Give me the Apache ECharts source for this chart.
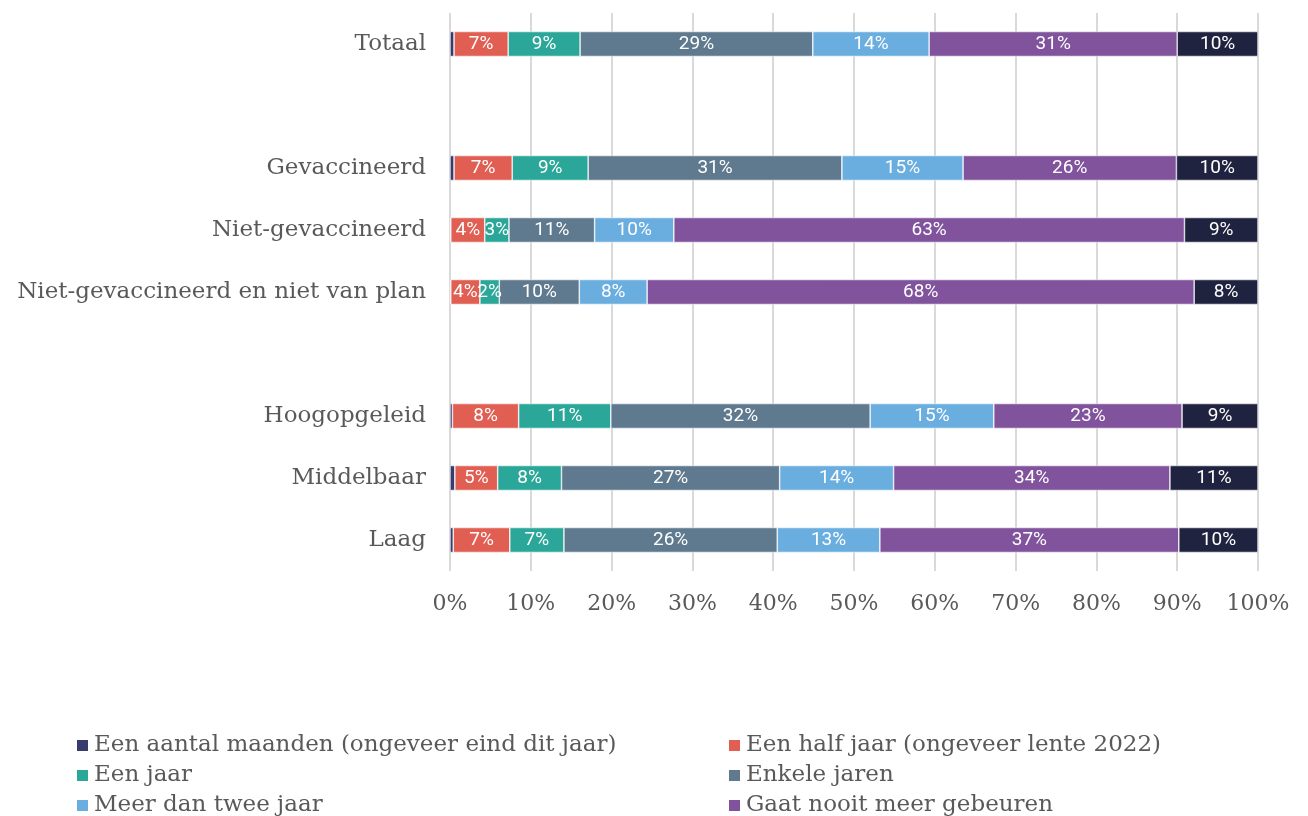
<!DOCTYPE html>
<html>
<head>
<meta charset="utf-8">
<script src="https://cdn.jsdelivr.net/npm/echarts@6/dist/echarts.min.js"></script>
<style>
  html, body { margin: 0; padding: 0; background: #fff; }
  #chart { width: 1308px; height: 816px; }
</style>
</head>
<body>
<div id="chart"></div>
<script>
// categorieen (lege regels zijn witruimte tussen de groepen)
const categories = ['Totaal', '', 'Gevaccineerd', 'Niet-gevaccineerd', 'Niet-gevaccineerd en niet van plan', ' ', 'Hoogopgeleid', 'Middelbaar', 'Laag'];

const seriesNames = [
  'Een aantal maanden (ongeveer eind dit jaar)',
  'Een half jaar (ongeveer lente 2022)',
  'Een jaar',
  'Enkele jaren',
  'Meer dan twee jaar',
  'Gaat nooit meer gebeuren',
  'Weet ik niet'
];

const colors = ['#363C6E', '#E05E52', '#2BA79A', '#5F7A8E', '#6AAEE0', '#80539C', '#20233F'];

// percentages per categorie, null = lege regel
const maanden   = [0.5, null, 0.5, 0.1, 0.1, null, 0.3, 0.6, 0.4];
const halfJaar  = [6.7, null, 7.2, 4.2, 3.6, null, 8.2, 5.3, 7.0];
const eenJaar   = [8.9, null, 9.4, 3.0, 2.4, null, 11.4, 7.9, 6.7];
const enkele    = [28.8, null, 31.4, 10.6, 9.9, null, 32.1, 27.0, 26.4];
const meerTwee  = [14.4, null, 15.0, 9.8, 8.4, null, 15.3, 14.1, 12.7];
const nooit     = [30.7, null, 26.4, 63.2, 67.7, null, 23.3, 34.2, 37.0];
const weetNiet  = [10.0, null, 10.1, 9.1, 7.9, null, 9.4, 10.9, 9.8];

const seriesData = [maanden, halfJaar, eenJaar, enkele, meerTwee, nooit, weetNiet];

const xTicks = { min: 0, max: 100, interval: 10 };

const serif = '"DejaVu Serif", serif';
const textColor = '#595959';

const chart = echarts.init(document.getElementById('chart'));

const series = seriesData.map((data, i) => ({
  name: seriesNames[i],
  type: 'bar',
  stack: 'totaal',
  barWidth: 25,
  data: data,
  itemStyle: { color: colors[i], borderColor: '#fff', borderWidth: 0.6 },
  label: {
    show: i > 0,
    position: 'inside',
    color: '#fff',
    fontFamily: 'Roboto',
    fontSize: 19,
    formatter: p => p.value == null ? '' : Math.round(p.value) + '%'
  }
}));

// legenda in twee kolommen, vierde regel valt buiten beeld
const legendBase = {
  orient: 'vertical',
  icon: 'rect',
  itemWidth: 13,
  itemHeight: 13,
  itemGap: 7,
  height: 300,
  textStyle: { fontFamily: serif, fontSize: 23, color: textColor, lineHeight: 22 }
};

const option = {
  animation: false,
  grid: { left: 450, right: 50, top: 13, bottom: 245 },
  legend: [
    Object.assign({}, legendBase, {
      left: 70, top: 729,
      data: [seriesNames[0], seriesNames[2], seriesNames[4], seriesNames[6]]
    }),
    Object.assign({}, legendBase, {
      left: 722, top: 729,
      data: [seriesNames[1], seriesNames[3], seriesNames[5]]
    })
  ],
  xAxis: {
    type: 'value',
    min: xTicks.min,
    max: xTicks.max,
    interval: xTicks.interval,
    axisLine: { show: false },
    axisTick: { show: false },
    axisLabel: {
      formatter: '{value}%',
      fontFamily: serif,
      fontSize: 22,
      color: textColor,
      margin: 22
    },
    splitLine: { lineStyle: { color: '#d9d9d9', width: 2 } }
  },
  yAxis: {
    type: 'category',
    inverse: true,
    data: categories,
    axisLine: { show: false },
    axisTick: { show: false },
    axisLabel: {
      fontFamily: serif,
      fontSize: 23,
      color: textColor,
      margin: 24
    }
  },
  series: series
};

chart.setOption(option);
</script>
</body>
</html>
